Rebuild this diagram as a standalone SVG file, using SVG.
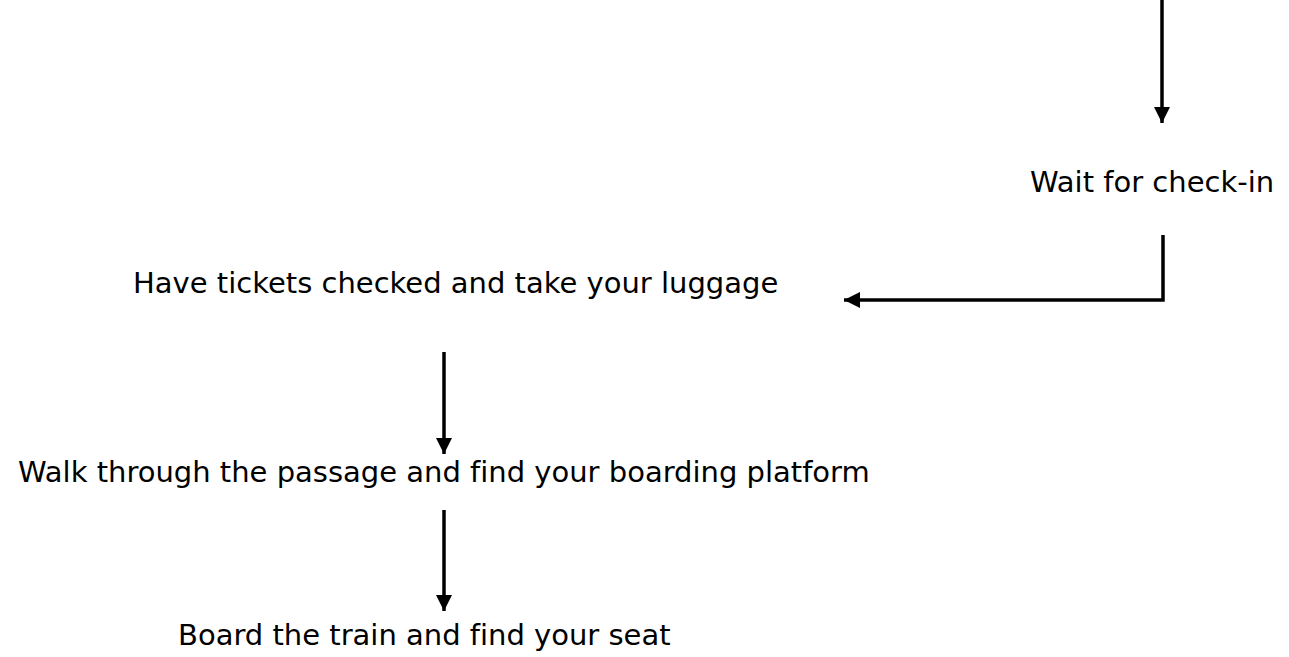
<svg xmlns="http://www.w3.org/2000/svg" width="1289" height="657" viewBox="0 0 1289 657">
<style>
.t{font-family:"DejaVu Sans",Verdana,sans-serif;font-size:29px;fill:#000;font-variant-ligatures:none}
.c{fill:none;stroke:#000;stroke-width:3.5}
</style>
<defs>
<marker id="ah" viewBox="0 0 10 10" refX="10" refY="5" markerWidth="4.6" markerHeight="4.6" markerUnits="strokeWidth" orient="auto">
<path d="M0,0 L10,5 L0,10 z" fill="#000"/>
</marker>
</defs>
<rect width="1289" height="657" fill="#fff"/>
<g id="connectors">
<path class="c" d="M1162,0 V123" marker-end="url(#ah)"/>
<path class="c" d="M1163,235 V300 H844" marker-end="url(#ah)"/>
<path class="c" d="M444,352 V454" marker-end="url(#ah)"/>
<path class="c" d="M444,510 V611" marker-end="url(#ah)"/>
</g>
<g id="n1"><text class="t" x="1030" y="192">Wait for check-in</text></g>
<g id="n2"><text class="t" x="133" y="293">Have tickets checked and take your luggage</text></g>
<g id="n3"><text class="t" x="18" y="482">Walk through the passage and find your boarding platform</text></g>
<g id="n4"><text class="t" x="178" y="645">Board the train and find your seat</text></g>
</svg>
